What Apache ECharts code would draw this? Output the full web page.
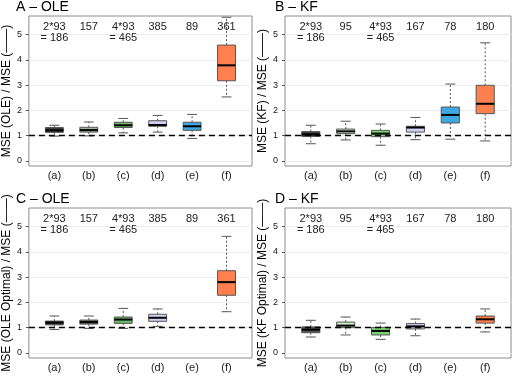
<!DOCTYPE html>
<html>
<head>
<meta charset="utf-8">
<script src="https://cdn.jsdelivr.net/npm/echarts@6/dist/echarts.min.js"></script>
<style>
  html, body { margin: 0; padding: 0; background: #fff; }
  #chart { width: 519px; height: 384px; }
</style>
</head>
<body>
<div id="chart"></div>
<script>
// category labels along the x axis
const categories = ['(a)', '(b)', '(c)', '(d)', '(e)', '(f)'];
const yTicks = [0, 1, 2, 3, 4, 5];

// sample sizes printed at the top of each panel
const countsOLE = ['2*93\n= 186', '157', '4*93\n= 465', '385', '89', '361'];
const countsKF = ['2*93\n= 186', '95', '4*93\n= 465', '167', '78', '180'];

// box stats per category: [min, q1, median, q3, max]; null = no box
const boxA = [
  [0.98, 1.13, 1.21, 1.32, 1.41],
  [0.99, 1.14, 1.22, 1.33, 1.54],
  [1.11, 1.32, 1.41, 1.53, 1.68],
  [1.14, 1.37, 1.42, 1.59, 1.80],
  [0.89, 1.21, 1.37, 1.53, 1.84],
  [2.53, 3.17, 3.78, 4.58, 5.68]
];
const boxB = [
  [0.68, 0.97, 1.05, 1.16, 1.41],
  [0.83, 1.08, 1.17, 1.26, 1.57],
  [0.62, 0.96, 1.08, 1.21, 1.46],
  [0.84, 1.14, 1.32, 1.37, 1.72],
  [0.86, 1.50, 1.82, 2.13, 3.04],
  [0.79, 1.87, 2.26, 2.99, 4.67]
];
const boxC = [
  [0.93, 1.11, 1.20, 1.26, 1.46],
  [0.97, 1.14, 1.22, 1.30, 1.46],
  [0.97, 1.17, 1.32, 1.42, 1.76],
  [1.05, 1.25, 1.39, 1.53, 1.74],
  null,
  [1.63, 2.28, 2.80, 3.25, 4.61]
];
const boxD = [
  [0.63, 0.80, 0.92, 1.03, 1.29],
  [0.71, 1.00, 1.08, 1.22, 1.42],
  [0.54, 0.71, 0.87, 1.01, 1.18],
  [0.68, 0.95, 1.05, 1.16, 1.34],
  null,
  [0.83, 1.18, 1.33, 1.46, 1.74]
];

const colorsA = ['#3d3d3d', '#a3b69c', '#6cb868', '#d0d0f2', '#3fa8e0', '#ff7f4f'];
const colorsB = ['#3d3d3d', '#c8efc0', '#7ad172', '#d0d0f2', '#3fa8e0', '#ff7f4f'];
const colorsC = ['#333333', '#5e6d58', '#6cb868', '#d0d0f2', '#3fa8e0', '#ff7f4f'];
const colorsD = ['#555555', '#c8efc0', '#7ad172', '#d0d0f2', '#3fa8e0', '#ff7f4f'];

const panels = [
  { title: 'A \u2013 OLE', ylab: 'MSE (OLE) / MSE (\u2014\u2014)', box: boxA, colors: colorsA, counts: countsOLE, left: 26, top: 16 },
  { title: 'B \u2013 KF', ylab: 'MSE (KF) / MSE (\u2014\u2014)', box: boxB, colors: colorsB, counts: countsKF, left: 285, top: 16 },
  { title: 'C \u2013 OLE', ylab: 'MSE (OLE Optimal) / MSE (\u2014\u2014)', box: boxC, colors: colorsC, counts: countsOLE, left: 26, top: 208 },
  { title: 'D \u2013 KF', ylab: 'MSE (KF Optimal) / MSE (\u2014\u2014)', box: boxD, colors: colorsD, counts: countsKF, left: 285, top: 208 }
];

const FONT = 'Liberation Sans';

function renderBox(params, api) {
  const x = api.value(0);
  const pMin = api.coord([x, api.value(1)]);
  const pQ1 = api.coord([x, api.value(2)]);
  const pMed = api.coord([x, api.value(3)]);
  const pQ3 = api.coord([x, api.value(4)]);
  const pMax = api.coord([x, api.value(5)]);
  const half = api.size([0.52, 0])[0] / 2;
  const cap = half * 0.55;
  const cx = pMed[0];
  const whisker = { stroke: '#555', lineWidth: 1, lineDash: [2, 2] };
  const solid = { stroke: '#555', lineWidth: 1 };
  return {
    type: 'group',
    children: [
      { type: 'line', shape: { x1: cx, y1: pQ3[1], x2: cx, y2: pMax[1] }, style: whisker },
      { type: 'line', shape: { x1: cx, y1: pQ1[1], x2: cx, y2: pMin[1] }, style: whisker },
      { type: 'line', shape: { x1: cx - cap, y1: pMax[1], x2: cx + cap, y2: pMax[1] }, style: solid },
      { type: 'line', shape: { x1: cx - cap, y1: pMin[1], x2: cx + cap, y2: pMin[1] }, style: solid },
      { type: 'rect', shape: { x: cx - half, y: pQ3[1], width: half * 2, height: pQ1[1] - pQ3[1] },
        style: { fill: api.visual('color'), stroke: '#555', lineWidth: 1 } },
      { type: 'line', shape: { x1: cx - half, y1: pMed[1], x2: cx + half, y2: pMed[1] },
        style: { stroke: '#000', lineWidth: 2 } }
    ]
  };
}

const option = {
  animation: false,
  backgroundColor: '#fff',
  textStyle: { fontFamily: FONT },
  title: [],
  grid: [],
  xAxis: [],
  yAxis: [],
  series: []
};

panels.forEach(function (p, i) {
  option.title.push({
    text: p.title,
    left: p.left - 10,
    top: p.top - 16,
    padding: 0,
    textStyle: { fontFamily: FONT, fontSize: 14, fontWeight: 'normal', color: '#000' }
  });
  option.grid.push({
    left: p.left, top: p.top, width: 226, height: 150,
    show: true, borderColor: '#8c8c8c', borderWidth: 1, backgroundColor: '#fff'
  });
  // bottom axis with category labels
  option.xAxis.push({
    type: 'value', gridIndex: i, min: 0.26, max: 6.74,
    axisLine: { show: false }, splitLine: { show: false },
    axisTick: { show: false, customValues: [1, 2, 3, 4, 5, 6] },
    axisLabel: {
      customValues: [1, 2, 3, 4, 5, 6], margin: 4,
      fontFamily: FONT, fontSize: 11, color: '#222',
      formatter: function (v) { return categories[Math.round(v) - 1]; }
    }
  });
  // top axis with counts, printed inside the plot
  option.xAxis.push({
    type: 'value', gridIndex: i, position: 'top', min: 0.26, max: 6.74,
    axisLine: { show: false }, splitLine: { show: false },
    axisTick: { show: false, customValues: [1, 2, 3, 4, 5, 6] },
    axisLabel: {
      inside: true, customValues: [1, 2, 3, 4, 5, 6], margin: 5,
      fontFamily: FONT, fontSize: 11, lineHeight: 11, color: '#222',
      formatter: function (v) { return p.counts[Math.round(v) - 1]; }
    }
  });
  option.yAxis.push({
    type: 'value', gridIndex: i, min: -0.2, max: 5.73,
    name: p.ylab, nameLocation: 'middle', nameGap: 12, nameRotate: 90,
    nameTextStyle: { fontFamily: FONT, fontSize: 12, color: '#000' },
    axisLine: { show: false },
    axisTick: { show: true, length: 3, customValues: yTicks, lineStyle: { color: '#555' } },
    axisLabel: { customValues: yTicks, margin: 7, fontFamily: FONT, fontSize: 9, color: '#222' },
    splitLine: { show: true, lineStyle: { color: '#ececec', width: 1 } }
  });
  const data = [];
  p.box.forEach(function (b, k) {
    if (!b) return;
    data.push({ value: [k + 1].concat(b), itemStyle: { color: p.colors[k] } });
  });
  option.series.push({
    type: 'custom',
    xAxisIndex: i * 2,
    yAxisIndex: i,
    renderItem: renderBox,
    encode: { x: 0, y: [1, 2, 3, 4, 5] },
    data: data,
    markLine: {
      silent: true, symbol: 'none', label: { show: false },
      lineStyle: { color: '#000', type: [6, 4], width: 1.3 },
      data: [{ yAxis: 1 }]
    }
  });
});

const chart = echarts.init(document.getElementById('chart'));
chart.setOption(option);
</script>
</body>
</html>
